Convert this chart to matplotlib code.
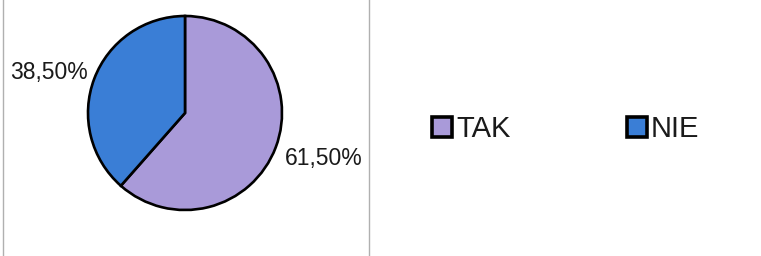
import matplotlib
matplotlib.use("Agg")
import matplotlib.pyplot as plt
from matplotlib.lines import Line2D

plt.rcParams["font.family"] = ["Liberation Sans", "DejaVu Sans"]

# ---- data -------------------------------------------------------------------
categories = ["TAK", "NIE"]
shares = [61.5, 38.5]
colors = ["#a99ad9", "#3a7ed6"]
pct_labels = [f"{v:.2f}%".replace(".", ",") for v in shares]

W, H = 761, 256
fig = plt.figure(figsize=(W / 100, H / 100), dpi=100)

# pie axes: centre at (185, 113) px, radius ~97 px
R = 97
cx, cy = 185, 113
ax = fig.add_axes([(cx - 2 * R) / W, 1 - (cy + 2 * R) / H, 4 * R / W, 4 * R / H])
wedges, texts = ax.pie(
    shares, labels=pct_labels, colors=colors,
    startangle=90, counterclock=False, radius=1, labeldistance=1.1,
    wedgeprops=dict(edgecolor="black", linewidth=1.9),
    textprops=dict(fontsize=16.5, color="#1a1a1a"),
)
ax.set_xlim(-2, 2)
ax.set_ylim(-2, 2)
ax.set_aspect("equal")
ax.axis("off")
for t in texts:
    t.set_va("center")
# small nudges to match the original label placement
x0, y0 = texts[0].get_position()
texts[0].set_position((x0, y0 - 0.08))
x1, y1 = texts[1].get_position()
texts[1].set_position((x1 + 0.03, y1 + 0.03))

leg = fig.legend(
    wedges, categories, ncol=2, frameon=False,
    loc="center left", bbox_to_anchor=(432 / W, 1 - 129 / H),
    borderpad=0, borderaxespad=0,
    fontsize=21, handlelength=0.7, handleheight=0.7,
    handletextpad=0.12, columnspacing=4.0,
)
for txt in leg.get_texts():
    txt.set_color("#1a1a1a")
for h in leg.legend_handles:
    h.set_linewidth(2.6)

# chart border lines from the scanned page
for x in (3, 369):
    fig.add_artist(Line2D([x / W, x / W], [0, 1], color="#b0b0b0", lw=1))

fig.savefig("out.png", dpi=100, facecolor="white")
